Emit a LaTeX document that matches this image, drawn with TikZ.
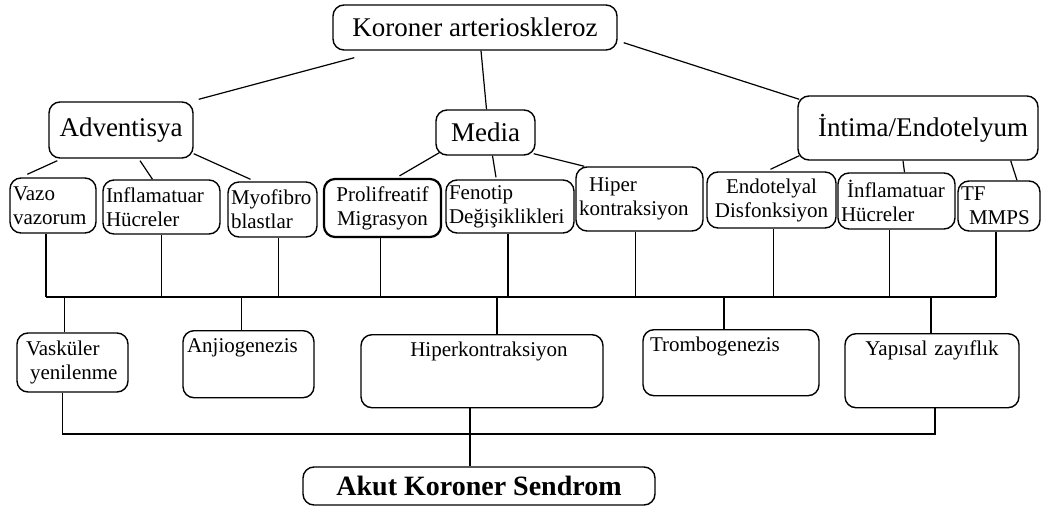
\documentclass[tikz,border=0pt]{standalone}
\usepackage{fontspec}
\setmainfont{Liberation Serif}
\usepackage{tikz}
\usetikzlibrary{positioning,calc}

\newcommand{\bigfont}{\fontsize{27}{30}\selectfont}
\newcommand{\cellfont}{\fontsize{21}{24}\selectfont}

\tikzset{
  rbox/.style={draw, rounded corners=11pt, line width=1.4pt},
  lvl/.style={rbox, font=\bigfont, inner sep=0pt},
  cell/.style={rbox, font=\cellfont, align=left, inner xsep=3pt, inner ysep=2pt},
  res/.style={rbox, font=\cellfont, anchor=north, inner xsep=4pt, inner ysep=7pt, text height=15pt},
  link/.style={line width=1.2pt},
}

\begin{document}
\begin{tikzpicture}[x=1pt,y=-1pt]
            \useasboundingbox (0,0) rectangle (1045,509);

            % top and layers
            \node[lvl, minimum width=284, minimum height=45] (koroner) at (475,27.5) {Koroner arterioskleroz};
            \node[lvl, minimum width=144, minimum height=56] (adv) at (121,130) {Adventisya};
            \node[lvl, minimum width=99, minimum height=45] (media) at (485.5,132.5) {Media};
            \node[lvl, minimum width=240, minimum height=64] (intima) at (918,128) {\hspace*{10pt}İntima/Endotelyum};

            % second row
            \node[cell, text width=80, minimum height=55] (vazo) at (53,205.5) {Vazo\\vazorum};
            \node[cell, text width=111, minimum height=54] (infl) at (161.5,207) {Inflamatuar\\Hücreler};
            \node[cell, text width=83, minimum height=55] (myo) at (272.5,209.5) {\mbox{Myofibro}\\blastlar};
            \node[cell, text width=111, minimum height=58, align=center, line width=2.2pt] (prol) at (382.5,208) {Prolifreatif\\Migrasyon};
            \node[cell, text width=122, minimum height=53] (feno) at (510,206.5) {Fenotip\\Değişiklikleri};
            \node[cell, text width=121, minimum height=64] (hiper) at (639.5,199) {\hspace*{10pt}Hiper\\kontraksiyon};
            \node[cell, text width=123, minimum height=56, align=center] (endo) at (771.5,200) {Endotelyal\\Disfonksiyon};
            \node[cell, text width=111, minimum height=56] (infb) at (896.5,201) {\hspace*{6pt}İnflamatuar\\Hücreler};
            \node[cell, text width=76, minimum height=50] (tf) at (999,206) {TF\\\hspace*{8pt}MMPS};

            % third row
            \node[cell, text width=105, minimum height=59] (vask) at (72.5,362.5) {\hspace*{6pt}Vasküler\\\hspace*{10pt}yenilenme};
            \node[res, text width=123, text depth=38pt, align=left] (anjio) at (248.5,330) {Anjiogenezis};
            \node[res, text width=234, text depth=44pt, align=center] (hk) at (482,334) {\hspace*{14pt}Hiperkontraksiyon};
            \node[res, text width=162, text depth=37pt, align=left, inner xsep=7pt] (trombo) at (731,329) {Trombogenezis};
            \node[res, text width=166, text depth=45pt, align=center] (yap) at (932,333) {Yapısal zayıflık};

            % result
            \node[rbox, font=\fontsize{28}{30}\selectfont\bfseries, minimum width=352, minimum height=38] (akut) at (479,486) {Akut Koroner Sendrom};

            % links between layers
            \draw[link] ([xshift=22pt,yshift=-7pt]koroner.south west) -- ([xshift=5pt,yshift=2pt]adv.north east);
            \draw[link] ([xshift=6pt]koroner.south) -- ([xshift=1pt]media.north);
            \draw[link] ([xshift=6pt,yshift=8pt]koroner.south east) -- ([xshift=2pt,yshift=-4pt]intima.north west);

            \draw[link] ([xshift=9pt,yshift=-2pt]adv.south west) -- ([xshift=18pt,yshift=3pt]vazo.north west);
            \draw[link] ([xshift=19pt,yshift=-2pt]adv.south) -- ([xshift=-9pt]infl.north);
            \draw[link] ([yshift=5pt]adv.south east) -- ([xshift=-22pt,yshift=2pt]myo.north);

            \draw[link] ([xshift=4pt,yshift=3pt]media.south west) -- ([xshift=17pt,yshift=2pt]prol.north);
            \draw[link] ([xshift=7pt]media.south) -- ([xshift=-14pt,yshift=2pt]feno.north);
            \draw[link] ([xshift=-2pt,yshift=2pt]media.south east) -- ([xshift=9pt]hiper.north west);

            \draw[link] ([xshift=2pt,yshift=5pt]intima.south west) -- ([xshift=-1pt,yshift=2pt]endo.north);
            \draw[link] ([xshift=-15pt]intima.south) -- ([xshift=8pt]infb.north);
            \draw[link] ([xshift=-28pt]intima.south east) -- ([xshift=18pt]tf.north);

            % collecting bus
            \coordinate (busA) at (0,297);
            \coordinate (busB) at (0,434);
            \foreach \n/\s in {vazo/-7,infl/0,myo/6,prol/-2,feno/-2,hiper/-4,endo/2,infb/-7,tf/-3}
                \draw[link] ([xshift=\s pt]\n.south) -- ([xshift=\s pt]\n.south |- busA);
            \draw[link] ([xshift=-7pt]vazo.south |- busA) -- ([xshift=-3pt]tf.south |- busA);
            \foreach \n/\s in {vask/-8,anjio/-7,hk/15,trombo/-7,yap/-1}
                \draw[link] ([xshift=\s pt]\n.north |- busA) -- ([xshift=\s pt]\n.north);

            \draw[link] ([xshift=-10pt]vask.south) -- ([xshift=-10pt]vask.south |- busB) -- ([xshift=3pt]yap.south |- busB) -- ([xshift=3pt]yap.south);
            \draw[link] ([xshift=-12pt]hk.south) -- ([xshift=-9pt]akut.north);
\end{tikzpicture}
\end{document}
